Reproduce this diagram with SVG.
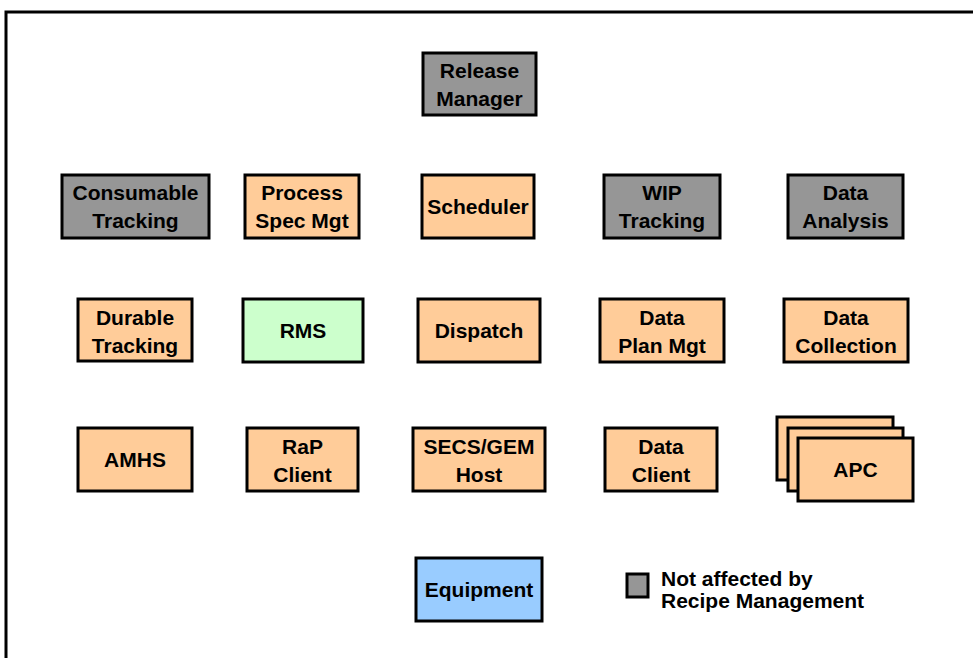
<svg xmlns="http://www.w3.org/2000/svg" width="973" height="658" viewBox="0 0 973 658">
<style>
.b{stroke:#000;stroke-width:3;stroke-linejoin:miter}
.g{fill:#969696}
.o{fill:#FFCC99}
.gr{fill:#CCFFCC}
.bl{fill:#99CCFF}
text{font-family:"Liberation Sans",Arial,sans-serif;font-weight:bold;font-size:21px;fill:#000;text-anchor:middle}
.l{text-anchor:start}
</style>
<rect x="6" y="12" width="1000" height="700" fill="#fff" stroke="#000" stroke-width="3"/>
<g id="release-manager"><rect class="b g" x="423" y="53" width="113" height="62"/><text x="479.5" y="78">Release</text><text x="479.5" y="106">Manager</text></g>
<g id="consumable-tracking"><rect class="b g" x="62" y="175" width="147" height="63"/><text x="135.5" y="200">Consumable</text><text x="135.5" y="228">Tracking</text></g>
<g id="process-spec-mgt"><rect class="b o" x="245" y="175" width="114" height="63"/><text x="302" y="200">Process</text><text x="302" y="228">Spec Mgt</text></g>
<g id="scheduler"><rect class="b o" x="422" y="175" width="112" height="63"/><text x="478" y="214">Scheduler</text></g>
<g id="wip-tracking"><rect class="b g" x="604" y="175" width="116" height="63"/><text x="662" y="200">WIP</text><text x="662" y="228">Tracking</text></g>
<g id="data-analysis"><rect class="b g" x="788" y="175" width="115" height="63"/><text x="845.5" y="200">Data</text><text x="845.5" y="228">Analysis</text></g>
<g id="durable-tracking"><rect class="b o" x="78" y="299" width="114" height="62"/><text x="135" y="325">Durable</text><text x="135" y="353">Tracking</text></g>
<g id="rms"><rect class="b gr" x="243" y="299" width="120" height="63"/><text x="303" y="338">RMS</text></g>
<g id="dispatch"><rect class="b o" x="418" y="299" width="122" height="63"/><text x="479" y="338">Dispatch</text></g>
<g id="data-plan-mgt"><rect class="b o" x="600" y="299" width="124" height="63"/><text x="662" y="325">Data</text><text x="662" y="353">Plan Mgt</text></g>
<g id="data-collection"><rect class="b o" x="784" y="299" width="124" height="63"/><text x="846" y="325">Data</text><text x="846" y="353">Collection</text></g>
<g id="amhs"><rect class="b o" x="78" y="428" width="114" height="63"/><text x="135" y="467">AMHS</text></g>
<g id="rap-client"><rect class="b o" x="247" y="428" width="111" height="63"/><text x="302.5" y="454">RaP</text><text x="302.5" y="482">Client</text></g>
<g id="secs-gem-host"><rect class="b o" x="413" y="428" width="132" height="63"/><text x="479" y="454">SECS/GEM</text><text x="479" y="482">Host</text></g>
<g id="data-client"><rect class="b o" x="605" y="428" width="112" height="63"/><text x="661" y="454">Data</text><text x="661" y="482">Client</text></g>
<g id="apc"><rect class="b o" x="777" y="417" width="116" height="63"/><rect class="b o" x="788" y="428" width="115" height="63"/><rect class="b o" x="798" y="438" width="115" height="63"/><text x="855.5" y="477">APC</text></g>
<g id="equipment"><rect class="b bl" x="416" y="558" width="126" height="63"/><text x="479" y="597">Equipment</text></g>
<g id="legend"><rect class="b g" x="627" y="574" width="21" height="23"/><text class="l" x="661" y="586">Not affected by</text><text class="l" x="661" y="608">Recipe Management</text></g>
<g id="connectors"></g>
</svg>
